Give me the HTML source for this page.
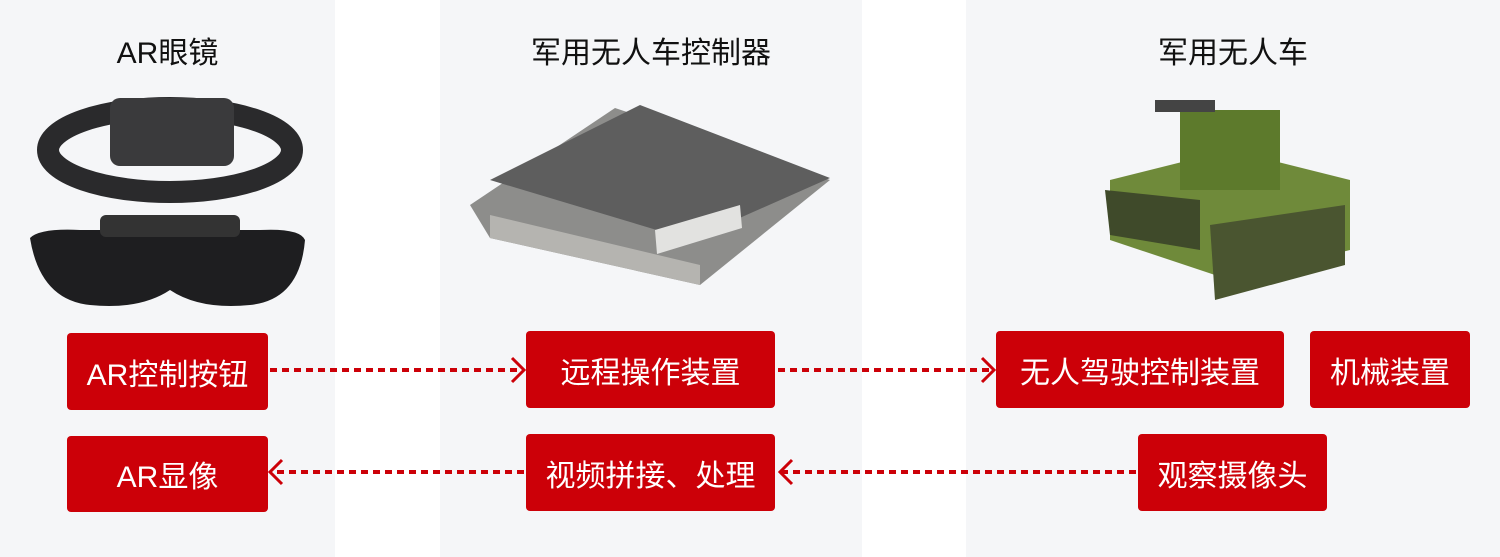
<!DOCTYPE html>
<html><head><meta charset="utf-8"><style>
body{margin:0;width:1500px;height:557px;background:#fff;position:relative;overflow:hidden;font-family:"Liberation Sans","Noto Sans CJK SC",sans-serif}
.p{position:absolute;top:0;height:557px;background:#f5f6f8}
.t{position:absolute;top:28px;font-size:30px;color:#111;text-align:center}
.b{position:absolute;background:#cc0008;color:#fff;font-size:30px;display:flex;align-items:center;justify-content:center;border-radius:4px}
svg{position:absolute;left:0;top:0}
</style></head><body>
<div class="p" style="left:0;width:335px"></div>
<div class="p" style="left:440px;width:422px"></div>
<div class="p" style="left:966px;width:534px"></div>
<div class="t" style="left:0;width:335px">AR眼镜</div>
<div class="t" style="left:440px;width:422px">军用无人车控制器</div>
<div class="t" style="left:966px;width:534px">军用无人车</div>
<svg width="1500" height="557">
<ellipse cx="170" cy="150" rx="122" ry="42" fill="none" stroke="#2a2a2c" stroke-width="22"/>
<rect x="110" y="98" width="124" height="68" rx="10" fill="#3a3a3c"/>
<path d="M30 238 Q40 228 80 230 L260 230 Q300 228 305 240 Q300 300 250 305 Q200 310 170 290 Q140 310 90 305 Q40 300 30 238Z" fill="#1e1e20"/>
<rect x="100" y="215" width="140" height="22" rx="6" fill="#333"/>
<polygon points="470,205 615,108 830,180 700,285 490,238" fill="#8d8d8b"/>
<polygon points="490,180 640,105 830,178 690,240" fill="#5e5e5e"/>
<polygon points="490,238 700,285 700,265 490,215" fill="#b5b4b0"/>
<polygon points="655,230 740,205 742,228 657,254" fill="#e2e2e0"/>
<polygon points="1110,180 1230,150 1350,180 1350,250 1230,280 1110,240" fill="#6f8a3a"/>
<rect x="1180" y="110" width="100" height="80" fill="#5d7a2c"/>
<rect x="1155" y="100" width="60" height="12" fill="#444"/>
<polygon points="1105,190 1200,200 1200,250 1110,235" fill="#3f4a2a"/>
<polygon points="1210,225 1345,205 1345,265 1215,300" fill="#4a5530"/>
<g stroke="#cc0008" stroke-width="4" stroke-dasharray="7,5" fill="none">
<line x1="270" y1="370" x2="522" y2="370"/>
<line x1="778" y1="370" x2="992" y2="370"/>
<line x1="1136" y1="472" x2="782" y2="472"/>
<line x1="524" y1="472" x2="272" y2="472"/>
</g>
<g stroke="#cc0008" stroke-width="3" fill="none">
<polyline points="512,358 524,370 512,382"/>
<polyline points="982,358 994,370 982,382"/>
<polyline points="792,460 780,472 792,484"/>
<polyline points="282,460 270,472 282,484"/>
</g>
</svg>
<div class="b" style="left:67px;top:333px;width:201px;height:77px">AR控制按钮</div>
<div class="b" style="left:526px;top:331px;width:249px;height:77px">远程操作装置</div>
<div class="b" style="left:996px;top:331px;width:288px;height:77px">无人驾驶控制装置</div>
<div class="b" style="left:1310px;top:331px;width:160px;height:77px">机械装置</div>
<div class="b" style="left:67px;top:436px;width:201px;height:76px">AR显像</div>
<div class="b" style="left:526px;top:434px;width:249px;height:77px">视频拼接、处理</div>
<div class="b" style="left:1138px;top:434px;width:189px;height:77px">观察摄像头</div>
</body></html>
